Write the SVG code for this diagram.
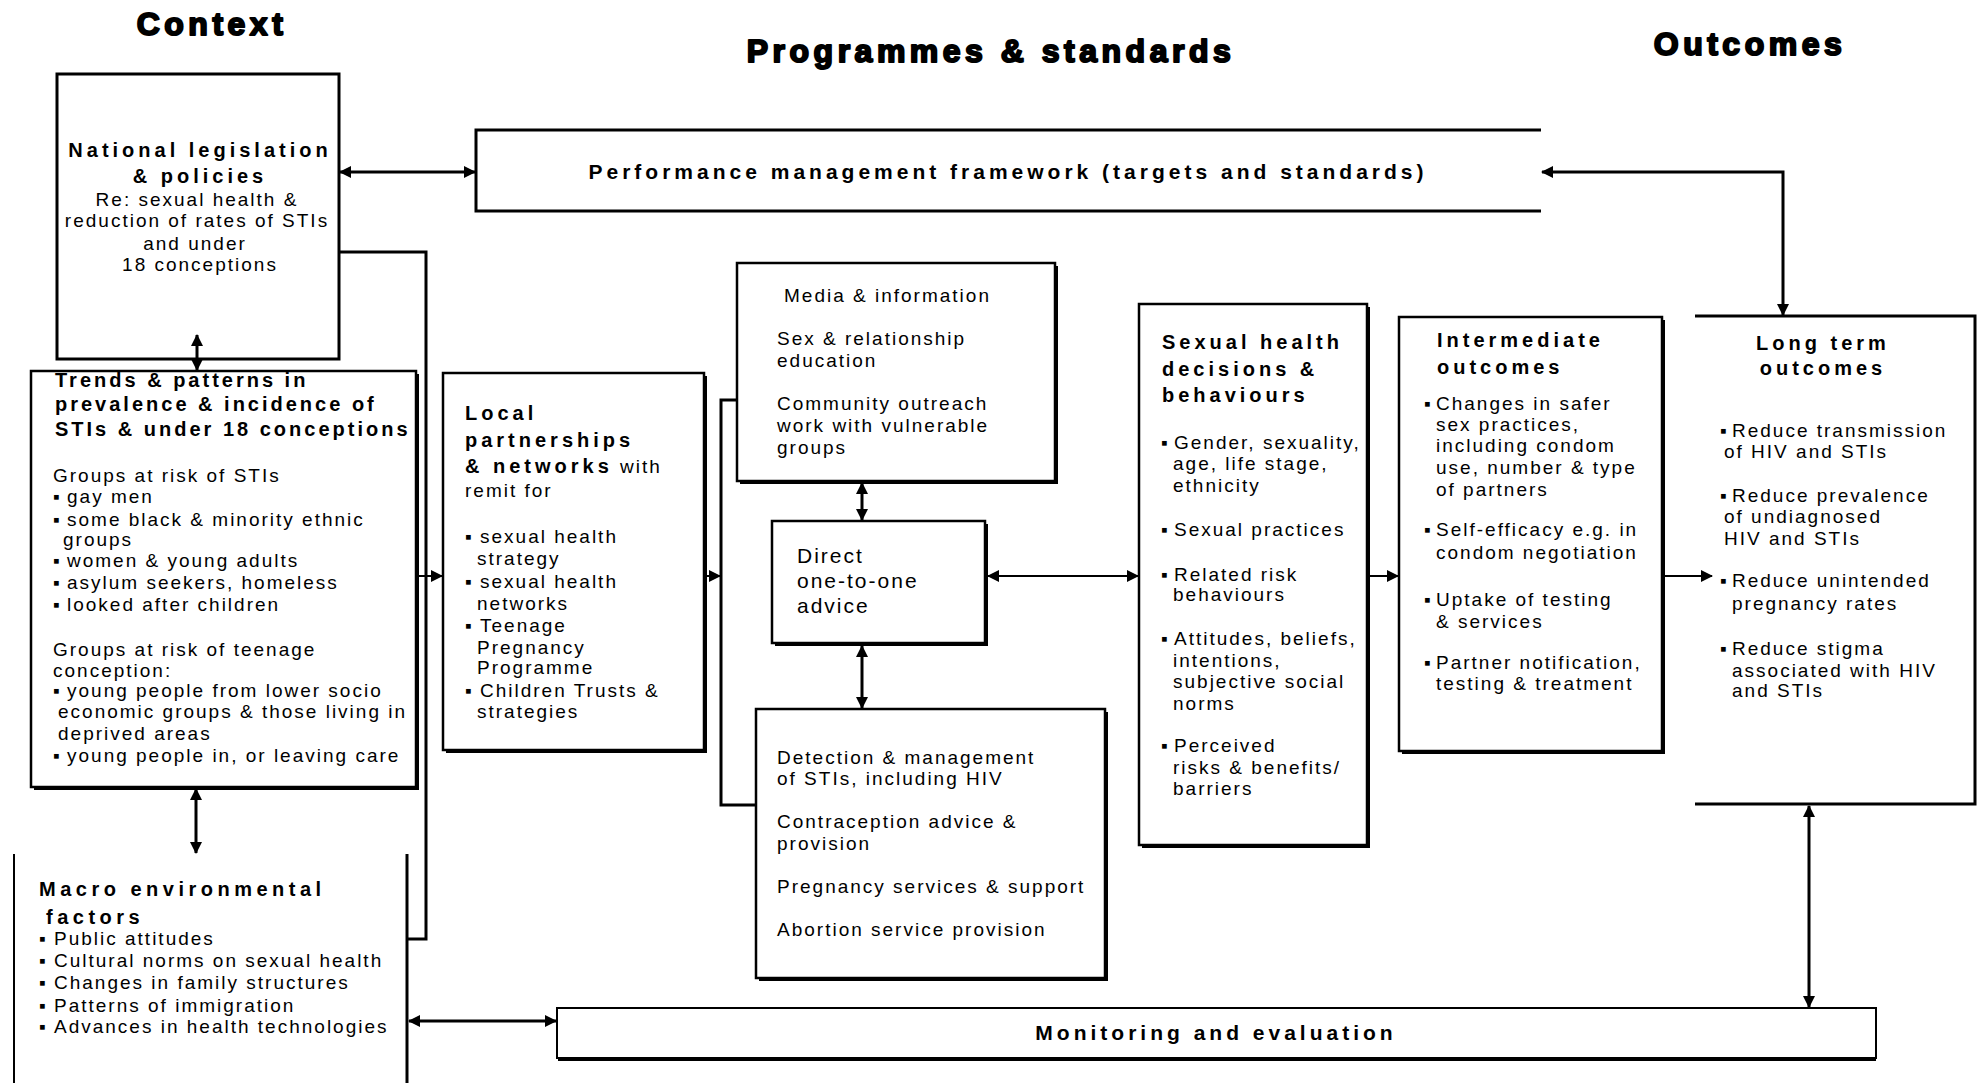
<svg xmlns="http://www.w3.org/2000/svg" width="1982" height="1083" viewBox="0 0 1982 1083">
<style>
.bg{fill:#fff}
.box{fill:#fff;stroke:#000;stroke-width:2.5}
.sh{fill:#000}
.open{fill:none;stroke:#000;stroke-width:3}
.t{font-family:"Liberation Sans",Arial,sans-serif;font-size:19px;letter-spacing:2px;fill:#000}
.h{font-family:"Liberation Sans",Arial,sans-serif;font-size:20px;font-weight:bold;letter-spacing:4px;fill:#000}
.big{font-family:"Liberation Sans",Arial,sans-serif;font-size:32px;font-weight:bold;letter-spacing:4.5px;fill:#000;stroke:#000;stroke-width:2;stroke-linejoin:round}
.c{text-anchor:middle}
.ln{fill:none;stroke:#000;stroke-width:3}
.thin{stroke-width:2}
.ar{marker-end:url(#ah)}
.ar2{marker-start:url(#ah);marker-end:url(#ah)}
</style>
<defs>
<marker id="ah" viewBox="0 0 12 12" refX="11" refY="6" markerWidth="12" markerHeight="12" markerUnits="userSpaceOnUse" orient="auto-start-reverse"><path d="M0,0 L12,6 L0,12 z" fill="#000"/></marker>
</defs>
<rect class="bg" x="0" y="0" width="1982" height="1083"/>

<g id="titles">
<text class="big c" x="212" y="35">Context</text>
<text class="big c" x="991" y="62">Programmes &amp; standards</text>
<text class="big c" x="1750" y="55">Outcomes</text>
</g>

<g id="national">
<rect class="box" x="57" y="74" width="282" height="285" style="stroke-width:3"/>
<text class="h c" x="200" y="157">National legislation</text>
<text class="h c" x="200" y="183">&amp; policies</text>
<text class="t c" x="197" y="206">Re: sexual health &amp;</text>
<text class="t c" x="197" y="227">reduction of rates of STIs</text>
<text class="t c" x="195" y="250">and under</text>
<text class="t c" x="200" y="271">18 conceptions</text>
</g>

<g id="performance">
<path class="open" d="M1541,130 H476 V211 H1541"/>
<text class="h c" x="1008" y="179" style="font-size:21px">Performance management framework (targets and standards)</text>
</g>

<g id="trends">
<rect class="sh" x="34" y="374" width="385" height="416"/>
<rect class="box" x="31" y="371" width="385" height="416"/>
<text class="h" x="55" y="387" style="letter-spacing:3px">Trends &amp; patterns in</text>
<text class="h" x="55" y="411" style="letter-spacing:3px">prevalence &amp; incidence of</text>
<text class="h" x="55" y="436" style="letter-spacing:3px">STIs &amp; under 18 conceptions</text>
<text class="t" x="53" y="482">Groups at risk of STIs</text>
<text class="t" x="53" y="503">▪<tspan x="67">gay men</tspan></text>
<text class="t" x="53" y="526">▪<tspan x="67">some black &amp; minority ethnic</tspan></text>
<text class="t" x="63" y="546">groups</text>
<text class="t" x="53" y="567">▪<tspan x="67">women &amp; young adults</tspan></text>
<text class="t" x="53" y="589">▪<tspan x="67">asylum seekers, homeless</tspan></text>
<text class="t" x="53" y="611">▪<tspan x="67">looked after children</tspan></text>
<text class="t" x="53" y="656">Groups at risk of teenage</text>
<text class="t" x="53" y="677">conception:</text>
<text class="t" x="53" y="697">▪<tspan x="67">young people from lower socio</tspan></text>
<text class="t" x="58" y="718">economic groups &amp; those living in</text>
<text class="t" x="58" y="740">deprived areas</text>
<text class="t" x="53" y="762">▪<tspan x="67">young people in, or leaving care</tspan></text>
</g>

<g id="macro">
<line class="ln thin" x1="14" y1="854" x2="14" y2="1083"/>
<line class="ln" x1="407" y1="854" x2="407" y2="1083"/>
<text class="h" x="39" y="896" style="letter-spacing:4.5px">Macro environmental</text>
<text class="h" x="46" y="924" style="letter-spacing:4.5px">factors</text>
<text class="t" x="39" y="945">▪<tspan x="54">Public attitudes</tspan></text>
<text class="t" x="39" y="967">▪<tspan x="54">Cultural norms on sexual health</tspan></text>
<text class="t" x="39" y="989">▪<tspan x="54">Changes in family structures</tspan></text>
<text class="t" x="39" y="1012">▪<tspan x="54">Patterns of immigration</tspan></text>
<text class="t" x="39" y="1033">▪<tspan x="54">Advances in health technologies</tspan></text>
</g>

<g id="local">
<rect class="sh" x="446" y="376" width="261" height="377"/>
<rect class="box" x="443" y="373" width="261" height="377"/>
<text class="h" x="465" y="420">Local</text>
<text class="h" x="465" y="447">partnerships</text>
<text class="h" x="465" y="473">&amp; networks<tspan class="t" style="font-weight:normal;letter-spacing:2px"> with</tspan></text>
<text class="t" x="465" y="497">remit for</text>
<text class="t" x="465" y="543">▪<tspan x="480">sexual health</tspan></text>
<text class="t" x="477" y="565">strategy</text>
<text class="t" x="465" y="588">▪<tspan x="480">sexual health</tspan></text>
<text class="t" x="477" y="610">networks</text>
<text class="t" x="465" y="632">▪<tspan x="480">Teenage</tspan></text>
<text class="t" x="477" y="654">Pregnancy</text>
<text class="t" x="477" y="674">Programme</text>
<text class="t" x="465" y="697">▪<tspan x="480">Children Trusts &amp;</tspan></text>
<text class="t" x="477" y="718">strategies</text>
</g>

<g id="media">
<rect class="sh" x="740" y="266" width="318" height="218"/>
<rect class="box" x="737" y="263" width="318" height="218"/>
<text class="t" x="784" y="302">Media &amp; information</text>
<text class="t" x="777" y="345">Sex &amp; relationship</text>
<text class="t" x="777" y="367">education</text>
<text class="t" x="777" y="410">Community outreach</text>
<text class="t" x="777" y="432">work with vulnerable</text>
<text class="t" x="777" y="454">groups</text>
</g>

<g id="direct">
<rect class="sh" x="775" y="524" width="213" height="122"/>
<rect class="box" x="772" y="521" width="213" height="122"/>
<text class="t" x="797" y="563" style="font-size:21px">Direct</text>
<text class="t" x="797" y="588" style="font-size:21px">one-to-one</text>
<text class="t" x="797" y="613" style="font-size:21px">advice</text>
</g>

<g id="detection">
<rect class="sh" x="759" y="712" width="349" height="269"/>
<rect class="box" x="756" y="709" width="349" height="269"/>
<text class="t" x="777" y="764">Detection &amp; management</text>
<text class="t" x="777" y="785">of STIs, including HIV</text>
<text class="t" x="777" y="828">Contraception advice &amp;</text>
<text class="t" x="777" y="850">provision</text>
<text class="t" x="777" y="893">Pregnancy services &amp; support</text>
<text class="t" x="777" y="936">Abortion service provision</text>
</g>

<g id="sexual">
<rect class="sh" x="1142" y="307" width="228" height="541"/>
<rect class="box" x="1139" y="304" width="228" height="541"/>
<text class="h" x="1162" y="349">Sexual health</text>
<text class="h" x="1162" y="376">decisions &amp;</text>
<text class="h" x="1162" y="402">behaviours</text>
<text class="t" x="1161" y="449">▪<tspan x="1174">Gender, sexuality,</tspan></text>
<text class="t" x="1173" y="470">age, life stage,</text>
<text class="t" x="1173" y="492">ethnicity</text>
<text class="t" x="1161" y="536">▪<tspan x="1174">Sexual practices</tspan></text>
<text class="t" x="1161" y="581">▪<tspan x="1174">Related risk</tspan></text>
<text class="t" x="1173" y="601">behaviours</text>
<text class="t" x="1161" y="645">▪<tspan x="1174">Attitudes, beliefs,</tspan></text>
<text class="t" x="1173" y="667">intentions,</text>
<text class="t" x="1173" y="688">subjective social</text>
<text class="t" x="1173" y="710">norms</text>
<text class="t" x="1161" y="752">▪<tspan x="1174">Perceived</tspan></text>
<text class="t" x="1173" y="774">risks &amp; benefits/</text>
<text class="t" x="1173" y="795">barriers</text>
</g>

<g id="intermediate">
<rect class="sh" x="1402" y="320" width="263" height="434"/>
<rect class="box" x="1399" y="317" width="263" height="434"/>
<text class="h" x="1437" y="347">Intermediate</text>
<text class="h" x="1437" y="374">outcomes</text>
<text class="t" x="1424" y="410">▪<tspan x="1436">Changes in safer</tspan></text>
<text class="t" x="1436" y="431">sex practices,</text>
<text class="t" x="1436" y="452">including condom</text>
<text class="t" x="1436" y="474">use, number &amp; type</text>
<text class="t" x="1436" y="496">of partners</text>
<text class="t" x="1424" y="536">▪<tspan x="1436">Self-efficacy e.g. in</tspan></text>
<text class="t" x="1436" y="559">condom negotiation</text>
<text class="t" x="1424" y="606">▪<tspan x="1436">Uptake of testing</tspan></text>
<text class="t" x="1436" y="628">&amp; services</text>
<text class="t" x="1424" y="669">▪<tspan x="1436">Partner notification,</tspan></text>
<text class="t" x="1436" y="690">testing &amp; treatment</text>
</g>

<g id="longterm">
<path class="open" d="M1695,316 H1975 V804 H1695"/>
<text class="h c" x="1823" y="350">Long term</text>
<text class="h c" x="1823" y="375">outcomes</text>
<text class="t" x="1720" y="437">▪<tspan x="1732">Reduce transmission</tspan></text>
<text class="t" x="1724" y="458">of HIV and STIs</text>
<text class="t" x="1720" y="502">▪<tspan x="1732">Reduce prevalence</tspan></text>
<text class="t" x="1724" y="523">of undiagnosed</text>
<text class="t" x="1724" y="545">HIV and STIs</text>
<text class="t" x="1720" y="587">▪<tspan x="1732">Reduce unintended</tspan></text>
<text class="t" x="1732" y="610">pregnancy rates</text>
<text class="t" x="1720" y="655">▪<tspan x="1732">Reduce stigma</tspan></text>
<text class="t" x="1732" y="677">associated with HIV</text>
<text class="t" x="1732" y="697">and STIs</text>
</g>

<g id="monitoring">
<rect class="sh" x="558" y="1011" width="1318" height="50"/>
<rect class="box" x="557" y="1008" width="1319" height="50" style="stroke-width:2"/>
<text class="h c" x="1216" y="1040" style="font-size:21px">Monitoring and evaluation</text>
</g>

<g id="connectors">
<line class="ln ar2" x1="340" y1="172" x2="475" y2="172"/>
<path class="ln ar2" d="M1542,172 H1783 V315"/>
<line class="ln ar2" x1="197" y1="335" x2="197" y2="370"/>
<path class="ln" d="M339,252 H426 V939 H408"/>
<line class="ln thin ar" x1="417" y1="576" x2="442" y2="576"/>
<line class="ln ar2" x1="196" y1="789" x2="196" y2="853"/>
<line class="ln ar2" x1="409" y1="1021" x2="556" y2="1021"/>
<line class="ln thin ar" x1="707" y1="576" x2="720" y2="576"/>
<path class="ln" d="M737,400 H721 V805 H756"/>
<line class="ln ar2" x1="862" y1="483" x2="862" y2="520"/>
<line class="ln ar2" x1="862" y1="646" x2="862" y2="708"/>
<line class="ln thin ar2" x1="988" y1="576" x2="1138" y2="576"/>
<line class="ln thin ar" x1="1370" y1="576" x2="1398" y2="576"/>
<line class="ln thin ar" x1="1665" y1="576" x2="1712" y2="576"/>
<line class="ln ar2" x1="1809" y1="806" x2="1809" y2="1007"/>
</g>
</svg>
